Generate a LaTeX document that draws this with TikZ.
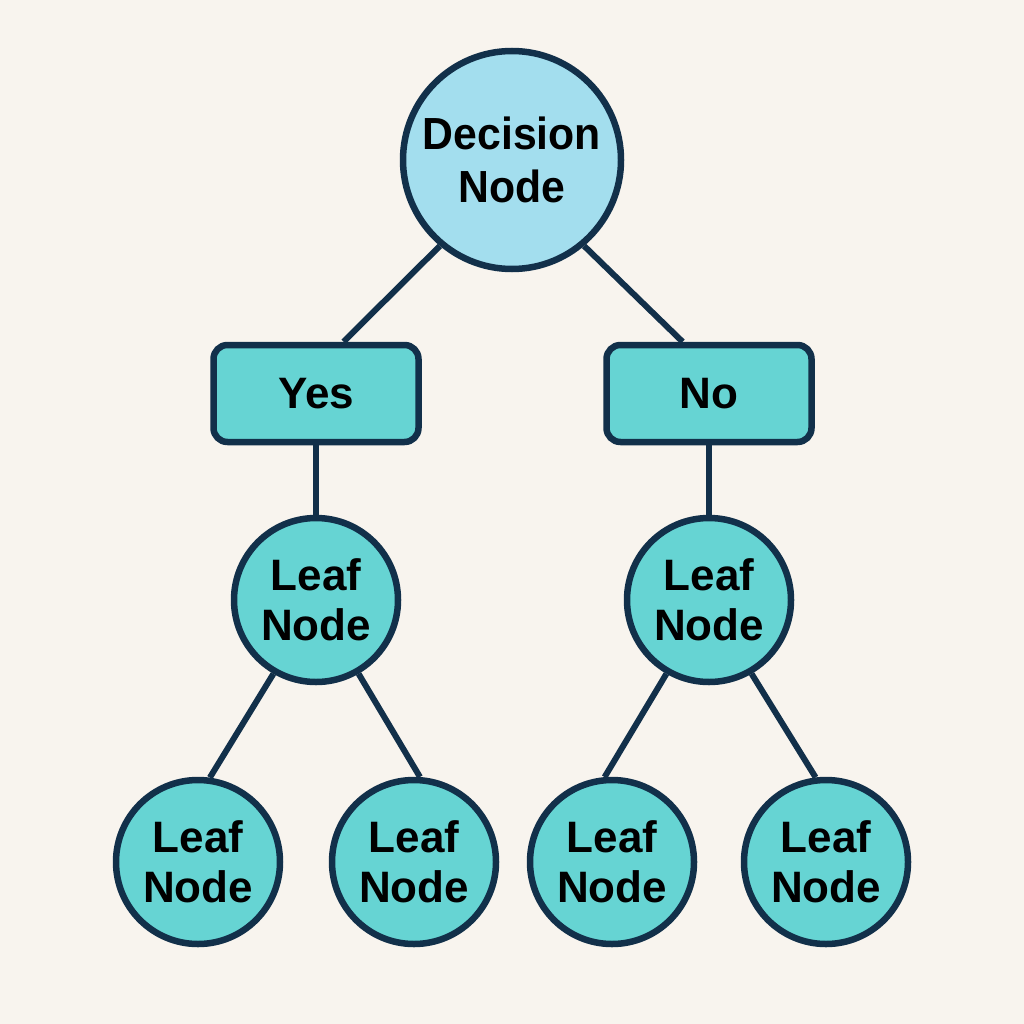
\documentclass[tikz,border=0pt]{standalone}
\usepackage{fontspec}
\setmainfont{Liberation Sans}
\usetikzlibrary{calc}
\definecolor{bgc}{HTML}{F8F4EE}
\definecolor{decfill}{HTML}{A3DEEE}
\definecolor{teal}{HTML}{66D4D3}
\definecolor{edge}{HTML}{12304A}
\begin{document}
\begin{tikzpicture}[x=1pt,y=-1pt,
  dec/.style={circle,draw=edge,line width=6.5pt,fill=decfill,minimum size=218pt,inner sep=0pt,align=center,
    font=\fontsize{45}{53}\selectfont\bfseries\addfontfeature{FakeStretch=0.95}},
  leaf/.style={circle,draw=edge,line width=6.5pt,fill=teal,minimum size=164pt,inner sep=0pt,align=center,
    font=\fontsize{44}{50}\selectfont\bfseries},
  answer/.style={rectangle,rounded corners=14pt,draw=edge,line width=6.5pt,fill=teal,minimum width=205pt,minimum height=97pt,inner sep=0pt,
    font=\fontsize{44}{50}\selectfont\bfseries},
  link/.style={draw=edge,line width=6pt}]
\fill[bgc] (0,0) rectangle (1024,1024);
\useasboundingbox (0,0) rectangle (1024,1024);
\node[dec] (dn) at (512,160) {Decision\\Node};
\node[answer] (yes) at (316,393.5) {Yes};
\node[answer] (no) at (709,393.5) {No};
\node[leaf] (l1) at (316,600) {Leaf\\Node};
\node[leaf] (l2) at (709,600) {Leaf\\Node};
\node[leaf] (b1) at (198,862) {Leaf\\Node};
\node[leaf] (b2) at (414,862) {Leaf\\Node};
\node[leaf] (b3) at (612,862) {Leaf\\Node};
\node[leaf] (b4) at (826,862) {Leaf\\Node};
\draw[link] (dn.230) -- ($(yes.north west)!0.63!(yes.north east)$);
\draw[link] (dn.310) -- ($(no.north west)!0.375!(no.north east)$);
\draw[link] (yes.south) -- (l1.north);
\draw[link] (no.south) -- (l2.north);
\draw[link] (l1.240) -- (b1.82);
\draw[link] (l1.300) -- (b2.86);
\draw[link] (l2.240) -- (b3.95);
\draw[link] (l2.300) -- (b4.97);
\end{tikzpicture}
\end{document}
